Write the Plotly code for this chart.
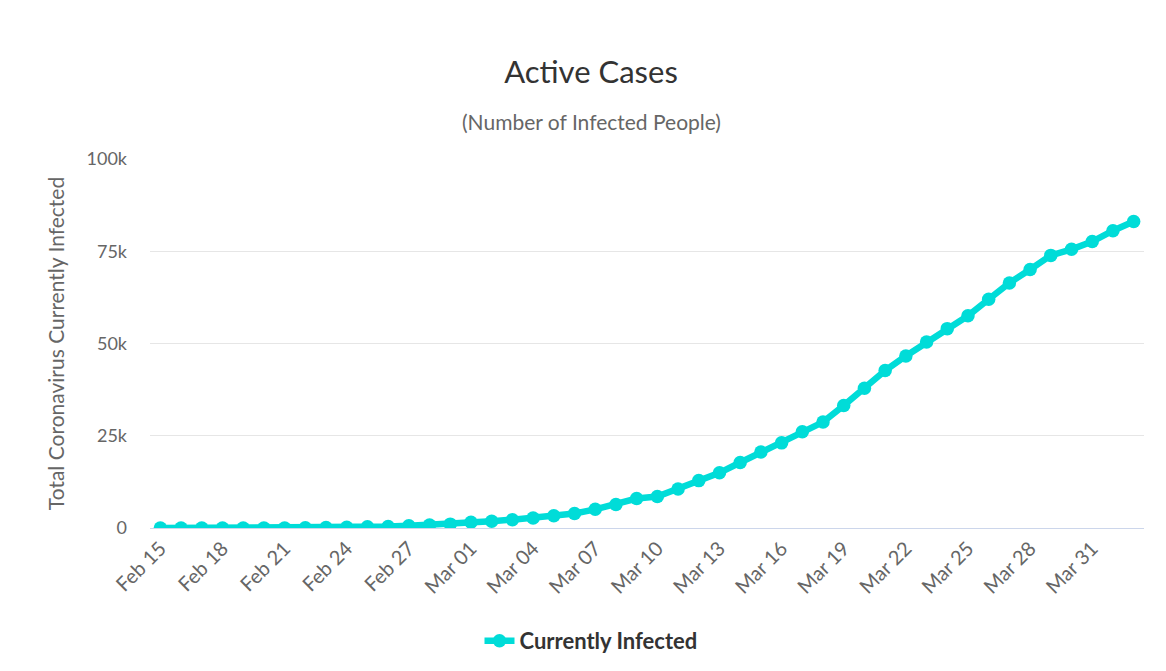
import plotly.graph_objects as go

dates = ["Feb 15", "Feb 16", "Feb 17", "Feb 18", "Feb 19", "Feb 20", "Feb 21", "Feb 22",
         "Feb 23", "Feb 24", "Feb 25", "Feb 26", "Feb 27", "Feb 28", "Feb 29", "Mar 01",
         "Mar 02", "Mar 03", "Mar 04", "Mar 05", "Mar 06", "Mar 07", "Mar 08", "Mar 09",
         "Mar 10", "Mar 11", "Mar 12", "Mar 13", "Mar 14", "Mar 15", "Mar 16", "Mar 17",
         "Mar 18", "Mar 19", "Mar 20", "Mar 21", "Mar 22", "Mar 23", "Mar 24", "Mar 25",
         "Mar 26", "Mar 27", "Mar 28", "Mar 29", "Mar 30", "Mar 31", "Apr 01", "Apr 02"]
infected = [3, 3, 3, 3, 3, 3, 17, 73, 152, 221, 311, 385, 588, 821, 1049, 1577,
            1835, 2263, 2706, 3296, 3916, 5061, 6387, 7985, 8514, 10590, 12839, 14955,
            17750, 20603, 23073, 26062, 28710, 33190, 37860, 42681, 46638, 50418, 54030, 57521,
            62013, 66414, 70065, 73880, 75528, 77635, 80572, 83049]
tick_labels = dates[::3]
y_ticks = [0, 25000, 50000, 75000, 100000]
y_tick_text = ["0", "25k", "50k", "75k", "100k"]

color = "#00dcd8"
font = "Lato, 'Open Sans', sans-serif"

fig = go.Figure()
fig.add_trace(go.Scatter(
    x=dates, y=infected, mode="lines+markers", name="Currently Infected",
    line=dict(color=color, width=6.5),
    marker=dict(color=color, size=13.5),
))

W, H = 1158, 663
ml, mr, mt, mb = 142, 22, 151, 143
pw = W - ml - mr
ph = H - mt - mb
cx = 583  # horizontal centre of headings, in figure pixels

fig.update_layout(
    width=W, height=H,
    margin=dict(l=ml, r=mr, t=mt, b=mb, autoexpand=False),
    paper_bgcolor="white", plot_bgcolor="white",
    font=dict(family=font, color="#666666"),
    title=dict(text="Active Cases", x=cx / W, xref="container", xanchor="center",
               y=1 - 64 / H, yanchor="middle",
               font=dict(size=31, color="#333333", family=font)),
    showlegend=True,
    legend=dict(orientation="h", x=(cx - ml) / pw, xanchor="center", xref="paper",
                y=-(641 - 528) / ph, yanchor="middle",
                font=dict(size=22, color="#333333", family=font, weight="bold"),
                itemwidth=30),
    annotations=[dict(text="(Number of Infected People)", xref="paper", yref="paper",
                      x=(cx - ml) / pw, y=1 + (159 - 121) / ph, yanchor="middle",
                      showarrow=False, font=dict(size=21, color="#666666", family=font))],
)
fig.update_xaxes(
    type="category", range=[-0.5, len(dates) - 0.5],
    tickmode="array", tickvals=tick_labels, ticktext=tick_labels,
    tickangle=-45, tickfont=dict(size=20, color="#666666"),
    showgrid=False, showline=True, linecolor="#ccd6eb", linewidth=1,
    ticks="", zeroline=False,
)
fig.update_yaxes(
    range=[0, 100000], tickmode="array", tickvals=y_ticks, ticktext=y_tick_text,
    tickfont=dict(size=18, color="#666666"), showgrid=True, gridcolor="#e6e6e6",
    zeroline=False, ticks="", ticklabelstandoff=22,
    title=dict(text="Total Coronavirus Currently Infected", standoff=16,
               font=dict(size=21, color="#666666")),
)
fig.write_html("out.html")
